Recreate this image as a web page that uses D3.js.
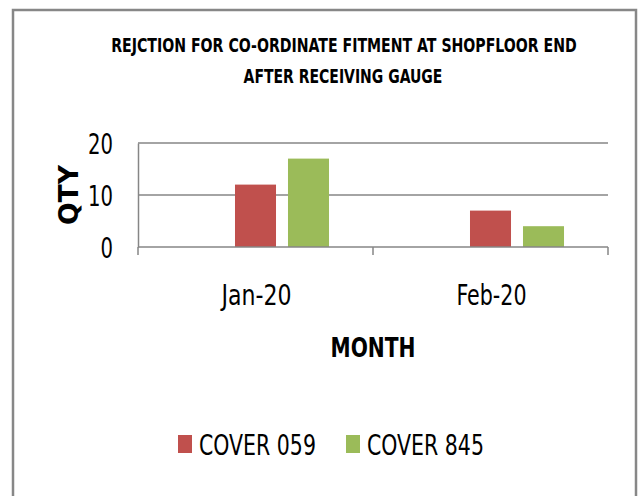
<!DOCTYPE html>
<html lang="en">
<head>
<meta charset="utf-8">
<title>Rejection chart</title>
<script src="https://d3js.org/d3.v7.min.js"></script>
<style>
  body { margin: 0; background: #fff; }
  text { font-family: "DejaVu Sans Condensed", "Liberation Sans", sans-serif; fill: #000; }
</style>
</head>
<body>
<div id="chart"></div>
<script>
// data
var months = ["Jan-20", "Feb-20"];
var seriesNames = ["COVER 059", "COVER 845"];
var cover059 = [12, 7];
var cover845 = [17, 4];
var seriesColors = ["#C0504D", "#9BBB59"];
var yTicks = [0, 10, 20];
// the source sheet has an empty first series, which leaves a gap slot in each group
var slots = ["(empty)"].concat(seriesNames);

var W = 640, H = 496;
var svg = d3.select("#chart").append("svg")
  .attr("width", W).attr("height", H);

// squeeze text horizontally to the narrow look of the original font
function fit(sel, w) {
  sel.each(function() {
    var t = d3.select(this);
    var x = +t.attr("x") || 0, y = +t.attr("y") || 0;
    var s = w / this.getComputedTextLength();
    t.attr("x", 0).attr("y", 0)
      .attr("transform", "translate(" + x + "," + y + ") scale(" + s + ",1)");
  });
}

// outer frame
svg.append("rect")
  .attr("x", 13).attr("y", 10)
  .attr("width", 623).attr("height", 500)
  .attr("fill", "#fff")
  .attr("stroke", "#878787")
  .attr("stroke-width", 2.5);

// scales
var x0 = d3.scaleBand().domain(months).range([138, 608]);
var x1 = d3.scaleBand().domain(slots).range([0, x0.bandwidth()])
  .paddingInner(0.226).paddingOuter(0.83);
var y = d3.scaleLinear().domain([0, 20]).range([247, 143]);

// gridlines
svg.append("g").selectAll("line")
  .data(yTicks.filter(function(d) { return d > 0; }))
  .enter().append("line")
    .attr("x1", 138).attr("x2", 608)
    .attr("y1", function(d) { return y(d); })
    .attr("y2", function(d) { return y(d); })
    .attr("stroke", "#868686").attr("stroke-width", 1.5);

// bars
var rows = months.map(function(m, i) {
  return { month: m, values: [
    { key: seriesNames[0], v: cover059[i], c: seriesColors[0] },
    { key: seriesNames[1], v: cover845[i], c: seriesColors[1] }
  ]};
});
svg.append("g").selectAll("g")
  .data(rows)
  .enter().append("g")
    .attr("transform", function(d) { return "translate(" + x0(d.month) + ",0)"; })
  .selectAll("rect")
  .data(function(d) { return d.values; })
  .enter().append("rect")
    .attr("x", function(d) { return x1(d.key); })
    .attr("y", function(d) { return y(d.v); })
    .attr("width", x1.bandwidth())
    .attr("height", function(d) { return y(0) - y(d.v); })
    .attr("fill", function(d) { return d.c; });

// y axis
var yAxis = svg.append("g")
  .attr("transform", "translate(138,0)")
  .call(d3.axisLeft(y).tickValues(yTicks).tickSize(0).tickPadding(25));
yAxis.select(".domain").attr("stroke", "#868686").attr("stroke-width", 1.5);
yAxis.selectAll("text")
  .style("font-size", "29px")
  .attr("dy", "0.36em")
  .each(function(d) { fit(d3.select(this), d < 10 ? 12.5 : 25); });

// x axis with ticks at category boundaries
var xg = svg.append("g").attr("transform", "translate(0,247)");
xg.append("line")
  .attr("x1", 138).attr("x2", 608)
  .attr("stroke", "#868686").attr("stroke-width", 1.5);
xg.selectAll(".tk")
  .data([months[0]].concat(months))
  .enter().append("line")
    .attr("class", "tk")
    .attr("x1", function(d, i) { return i === 0 ? x0(d) : x0(d) + x0.bandwidth(); })
    .attr("x2", function(d, i) { return i === 0 ? x0(d) : x0(d) + x0.bandwidth(); })
    .attr("y1", 0).attr("y2", 8)
    .attr("stroke", "#868686").attr("stroke-width", 1.5);
xg.selectAll(".lbl")
  .data(months)
  .enter().append("text")
    .attr("class", "lbl")
    .attr("x", function(d) { return x0(d) + x0.bandwidth() / 2 + 1; })
    .attr("y", 58)
    .attr("text-anchor", "middle")
    .style("font-size", "29px")
    .text(function(d) { return d; })
    .call(fit, 70);

// axis titles
svg.append("text")
  .attr("x", 373).attr("y", 357)
  .attr("text-anchor", "middle")
  .style("font-size", "27px").style("font-weight", "bold")
  .text("MONTH")
  .call(fit, 85);
svg.append("text")
  .attr("transform", "translate(78,195) rotate(-90)")
  .attr("text-anchor", "middle")
  .style("font-size", "27px").style("font-weight", "bold")
  .attr("textLength", 60).attr("lengthAdjust", "spacingAndGlyphs")
  .text("QTY");

// title
svg.append("text")
  .attr("x", 344).attr("y", 52)
  .attr("text-anchor", "middle")
  .style("font-size", "20px").style("font-weight", "bold")
  .text("REJCTION FOR CO-ORDINATE FITMENT AT SHOPFLOOR END")
  .call(fit, 466);
svg.append("text")
  .attr("x", 343).attr("y", 83)
  .attr("text-anchor", "middle")
  .style("font-size", "20px").style("font-weight", "bold")
  .text("AFTER RECEIVING GAUGE")
  .call(fit, 199);

// legend
var legend = svg.append("g").selectAll("g")
  .data(seriesNames)
  .enter().append("g")
    .attr("transform", function(d, i) { return "translate(" + (178 + i * 168) + ",435)"; });
legend.append("rect")
  .attr("width", 14).attr("height", 18)
  .attr("fill", function(d, i) { return seriesColors[i]; });
legend.append("text")
  .attr("x", 21).attr("y", 20)
  .style("font-size", "29px")
  .text(function(d) { return d; })
  .call(fit, 117);
</script>
</body>
</html>
